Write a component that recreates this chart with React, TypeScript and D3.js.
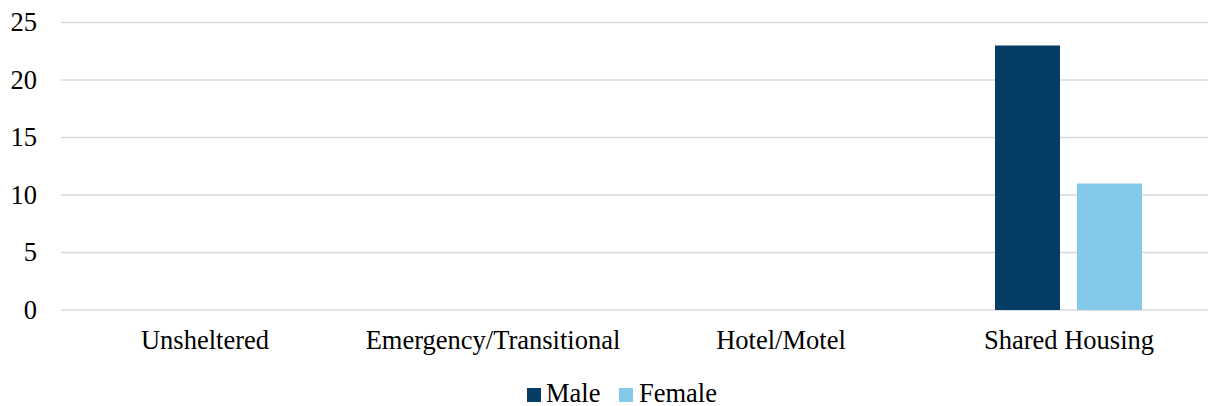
import React from "react";
import * as d3 from "d3";

const categories = ["Unsheltered", "Emergency/Transitional", "Hotel/Motel", "Shared Housing"];
const seriesNames = ["Male", "Female"];
const maleValues = [0, 0, 0, 23];
const femaleValues = [0, 0, 0, 11];
const yTicks = [0, 5, 10, 15, 20, 25];
const colors = ["#053d66", "#83caea"];

const W = 1208;
const H = 406;
const FONT = "Liberation Serif, Times New Roman, Times, DejaVu Serif, serif";
const textStyle: React.CSSProperties = { fontFamily: FONT, fontSize: "26.5px" };

export default function App() {
  const x = d3.scaleBand<string>().domain(categories).range([61, 1213]);
  const y = d3.scaleLinear().domain([0, 25]).range([310, 22.5]);
  const series = [maleValues, femaleValues];
  const bw = 65;
  const gap = 17;
  const outer = 70;
  return (
    <svg width={W} height={H} style={{ position: "absolute", left: 0, top: 0, background: "#fff" }}>
      <rect x={0} y={0} width={W} height={H} fill="#fff" />
      {yTicks.map((t) => (
        <g key={t}>
          <line x1={61} x2={W} y1={y(t)} y2={y(t)} stroke="#d9d9d9" strokeWidth={1.5} />
          <text x={37} y={y(t) + 8.5} textAnchor="end" style={textStyle} fill="#000">
            {t}
          </text>
        </g>
      ))}
      {categories.map((c, i) =>
        series.map((vals, s) => {
          const v = vals[i];
          if (!v) return null;
          const bx = (x(c) as number) + outer + s * (bw + gap);
          return <rect key={c + seriesNames[s]} x={bx} y={y(v)} width={bw} height={y(0) - y(v)} fill={colors[s]} />;
        })
      )}
      {categories.map((c) => (
        <text key={c} x={(x(c) as number) + x.bandwidth() / 2} y={349} textAnchor="middle" style={textStyle} fill="#000">
          {c}
        </text>
      ))}
      <g>
        <rect x={527} y={388} width={14} height={14} fill={colors[0]} />
        <text x={546} y={401.5} style={textStyle} fill="#000">{seriesNames[0]}</text>
        <rect x={619} y={388} width={14} height={14} fill={colors[1]} />
        <text x={639} y={401.5} style={textStyle} fill="#000">{seriesNames[1]}</text>
      </g>
    </svg>
  );
}
